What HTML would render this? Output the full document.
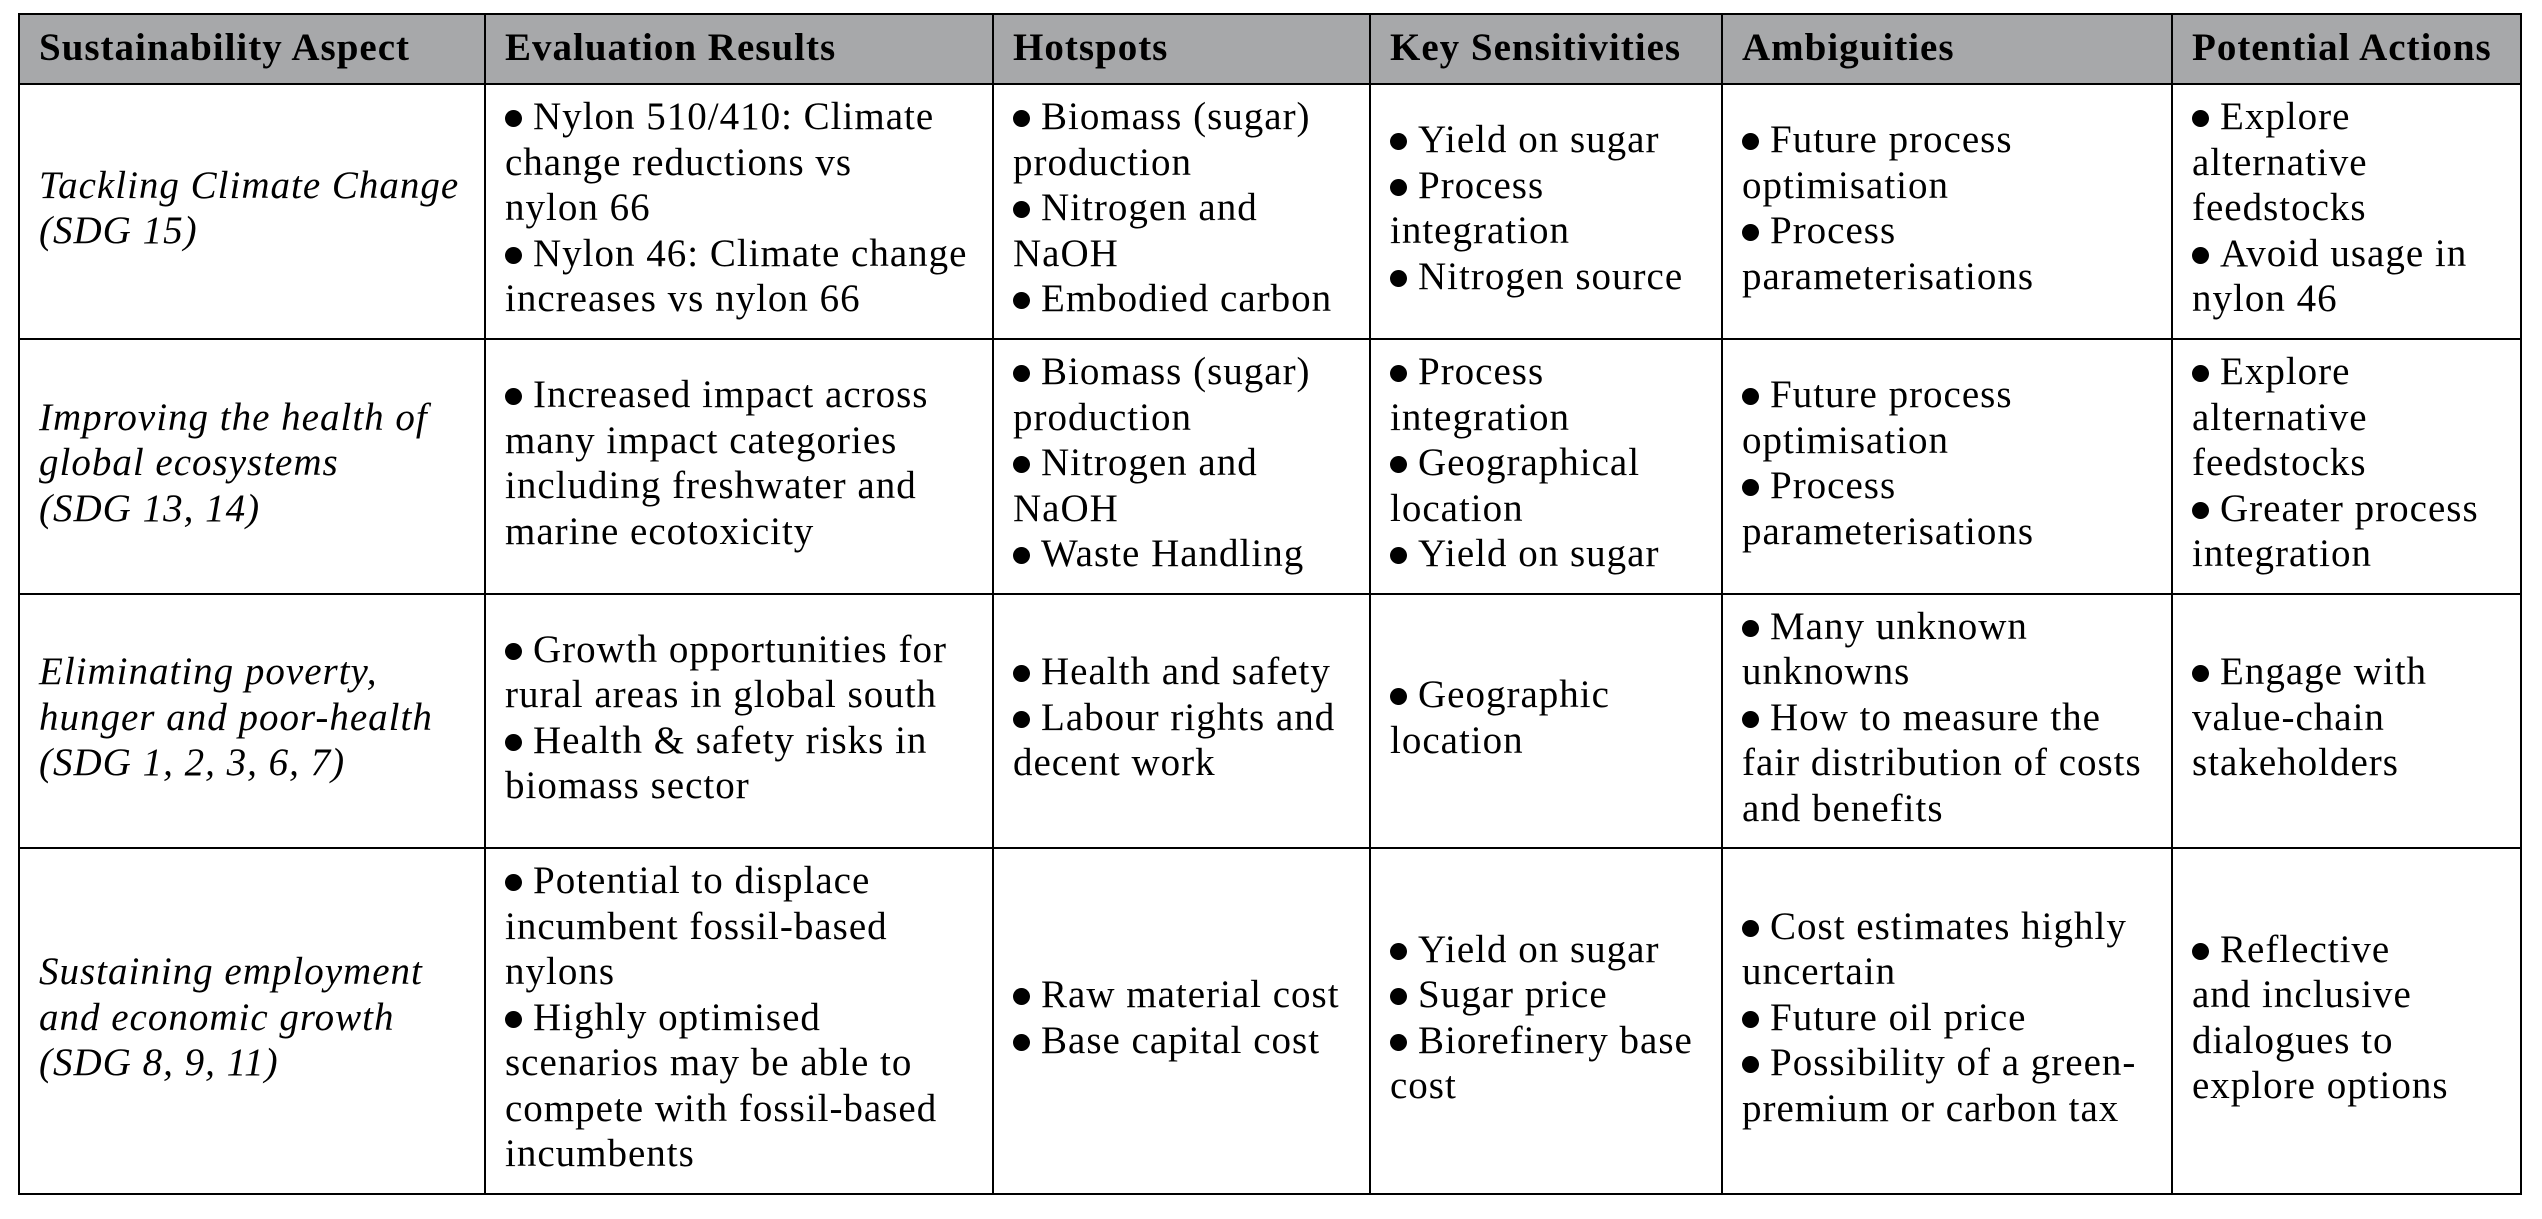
<!DOCTYPE html>
<html>
<head>
<meta charset="utf-8">
<style>
  html, body { margin:0; padding:0; background:#fff; }
  body { width:2542px; height:1219px; position:relative; overflow:hidden;
         font-family:"Liberation Serif", serif; color:#000; }
  .hdr { position:absolute; left:19px; top:14px; width:2502px; height:70px; background:#a7a8aa; }
  .h { position:absolute; height:2px; background:#000; left:18px; width:2504px; }
  .v { position:absolute; width:2px; background:#000; top:13px; height:1182px; }
  .c { position:absolute; display:flex; flex-direction:column; justify-content:center;
       box-sizing:border-box; padding-left:20px; padding-bottom:7px;
       font-size:39px; line-height:45.5px; letter-spacing:1px; }
  .c div { white-space:nowrap; }
  .th { font-weight:bold; padding-bottom:2px; }
  .it { font-style:italic; }
  .b { display:inline-block; width:17px; height:17px; border-radius:50%; background:#000;
       margin-right:11px; margin-bottom:2px; vertical-align:baseline; }
</style>
</head>
<body>
<div class="hdr"></div>

<!-- horizontal lines -->
<div class="h" style="top:13px"></div>
<div class="h" style="top:83px"></div>
<div class="h" style="top:338px"></div>
<div class="h" style="top:593px"></div>
<div class="h" style="top:847px"></div>
<div class="h" style="top:1193px"></div>
<!-- vertical lines -->
<div class="v" style="left:18px"></div>
<div class="v" style="left:484px"></div>
<div class="v" style="left:992px"></div>
<div class="v" style="left:1369px"></div>
<div class="v" style="left:1721px"></div>
<div class="v" style="left:2171px"></div>
<div class="v" style="left:2520px"></div>

<!-- header -->
<div class="c th" style="left:19px;top:14px;width:466px;height:70px"><div>Sustainability Aspect</div></div>
<div class="c th" style="left:485px;top:14px;width:508px;height:70px"><div>Evaluation Results</div></div>
<div class="c th" style="left:993px;top:14px;width:377px;height:70px"><div>Hotspots</div></div>
<div class="c th" style="left:1370px;top:14px;width:352px;height:70px"><div>Key Sensitivities</div></div>
<div class="c th" style="left:1722px;top:14px;width:450px;height:70px"><div>Ambiguities</div></div>
<div class="c th" style="left:2172px;top:14px;width:349px;height:70px"><div>Potential Actions</div></div>

<!-- row 1 -->
<div class="c it" style="left:19px;top:84px;width:466px;height:255px">
  <div>Tackling Climate Change</div><div>(SDG 15)</div>
</div>
<div class="c" style="left:485px;top:84px;width:508px;height:255px">
  <div><span class="b"></span>Nylon 510/410: Climate</div>
  <div>change reductions vs</div>
  <div>nylon 66</div>
  <div><span class="b"></span>Nylon 46: Climate change</div>
  <div>increases vs nylon 66</div>
</div>
<div class="c" style="left:993px;top:84px;width:377px;height:255px">
  <div><span class="b"></span>Biomass (sugar)</div>
  <div>production</div>
  <div><span class="b"></span>Nitrogen and</div>
  <div>NaOH</div>
  <div><span class="b"></span>Embodied carbon</div>
</div>
<div class="c" style="left:1370px;top:84px;width:352px;height:255px">
  <div><span class="b"></span>Yield on sugar</div>
  <div><span class="b"></span>Process</div>
  <div>integration</div>
  <div><span class="b"></span>Nitrogen source</div>
</div>
<div class="c" style="left:1722px;top:84px;width:450px;height:255px">
  <div><span class="b"></span>Future process</div>
  <div>optimisation</div>
  <div><span class="b"></span>Process</div>
  <div>parameterisations</div>
</div>
<div class="c" style="left:2172px;top:84px;width:349px;height:255px">
  <div><span class="b"></span>Explore</div>
  <div>alternative</div>
  <div>feedstocks</div>
  <div><span class="b"></span>Avoid usage in</div>
  <div>nylon 46</div>
</div>

<!-- row 2 -->
<div class="c it" style="left:19px;top:339px;width:466px;height:255px">
  <div>Improving the health of</div><div>global ecosystems</div><div>(SDG 13, 14)</div>
</div>
<div class="c" style="left:485px;top:339px;width:508px;height:255px">
  <div><span class="b"></span>Increased impact across</div>
  <div>many impact categories</div>
  <div>including freshwater and</div>
  <div>marine ecotoxicity</div>
</div>
<div class="c" style="left:993px;top:339px;width:377px;height:255px">
  <div><span class="b"></span>Biomass (sugar)</div>
  <div>production</div>
  <div><span class="b"></span>Nitrogen and</div>
  <div>NaOH</div>
  <div><span class="b"></span>Waste Handling</div>
</div>
<div class="c" style="left:1370px;top:339px;width:352px;height:255px">
  <div><span class="b"></span>Process</div>
  <div>integration</div>
  <div><span class="b"></span>Geographical</div>
  <div>location</div>
  <div><span class="b"></span>Yield on sugar</div>
</div>
<div class="c" style="left:1722px;top:339px;width:450px;height:255px">
  <div><span class="b"></span>Future process</div>
  <div>optimisation</div>
  <div><span class="b"></span>Process</div>
  <div>parameterisations</div>
</div>
<div class="c" style="left:2172px;top:339px;width:349px;height:255px">
  <div><span class="b"></span>Explore</div>
  <div>alternative</div>
  <div>feedstocks</div>
  <div><span class="b"></span>Greater process</div>
  <div>integration</div>
</div>

<!-- row 3 -->
<div class="c it" style="left:19px;top:594px;width:466px;height:254px">
  <div>Eliminating poverty,</div><div>hunger and poor-health</div><div>(SDG 1, 2, 3, 6, 7)</div>
</div>
<div class="c" style="left:485px;top:594px;width:508px;height:254px">
  <div><span class="b"></span>Growth opportunities for</div>
  <div>rural areas in global south</div>
  <div><span class="b"></span>Health &amp; safety risks in</div>
  <div>biomass sector</div>
</div>
<div class="c" style="left:993px;top:594px;width:377px;height:254px">
  <div><span class="b"></span>Health and safety</div>
  <div><span class="b"></span>Labour rights and</div>
  <div>decent work</div>
</div>
<div class="c" style="left:1370px;top:594px;width:352px;height:254px">
  <div><span class="b"></span>Geographic</div>
  <div>location</div>
</div>
<div class="c" style="left:1722px;top:594px;width:450px;height:254px">
  <div><span class="b"></span>Many unknown</div>
  <div>unknowns</div>
  <div><span class="b"></span>How to measure the</div>
  <div>fair distribution of costs</div>
  <div>and benefits</div>
</div>
<div class="c" style="left:2172px;top:594px;width:349px;height:254px">
  <div><span class="b"></span>Engage with</div>
  <div>value-chain</div>
  <div>stakeholders</div>
</div>

<!-- row 4 -->
<div class="c it" style="left:19px;top:848px;width:466px;height:346px">
  <div>Sustaining employment</div><div>and economic growth</div><div>(SDG 8, 9, 11)</div>
</div>
<div class="c" style="left:485px;top:848px;width:508px;height:346px">
  <div><span class="b"></span>Potential to displace</div>
  <div>incumbent fossil-based</div>
  <div>nylons</div>
  <div><span class="b"></span>Highly optimised</div>
  <div>scenarios may be able to</div>
  <div>compete with fossil-based</div>
  <div>incumbents</div>
</div>
<div class="c" style="left:993px;top:848px;width:377px;height:346px">
  <div><span class="b"></span>Raw material cost</div>
  <div><span class="b"></span>Base capital cost</div>
</div>
<div class="c" style="left:1370px;top:848px;width:352px;height:346px">
  <div><span class="b"></span>Yield on sugar</div>
  <div><span class="b"></span>Sugar price</div>
  <div><span class="b"></span>Biorefinery base</div>
  <div>cost</div>
</div>
<div class="c" style="left:1722px;top:848px;width:450px;height:346px">
  <div><span class="b"></span>Cost estimates highly</div>
  <div>uncertain</div>
  <div><span class="b"></span>Future oil price</div>
  <div><span class="b"></span>Possibility of a green-</div>
  <div>premium or carbon tax</div>
</div>
<div class="c" style="left:2172px;top:848px;width:349px;height:346px">
  <div><span class="b"></span>Reflective</div>
  <div>and inclusive</div>
  <div>dialogues to</div>
  <div>explore options</div>
</div>
</body>
</html>
